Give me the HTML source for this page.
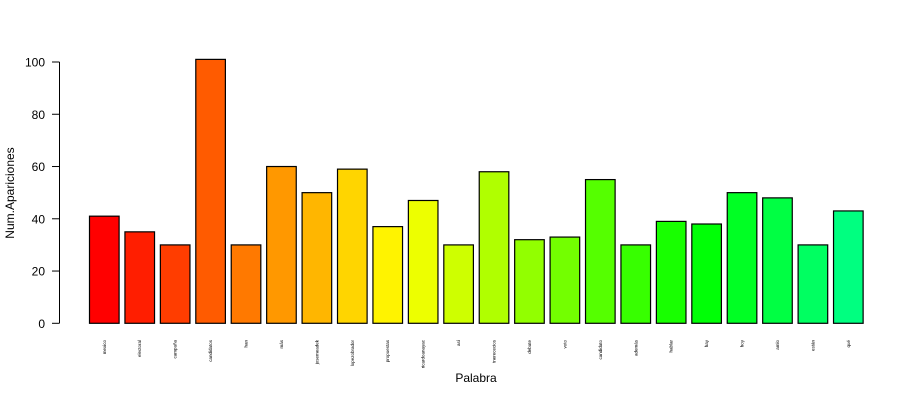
<!DOCTYPE html>
<html><head><meta charset="utf-8"><style>
html,body{margin:0;padding:0;background:#fff;}
svg{display:block;font-family:"Liberation Sans",Arial,sans-serif;}
</style></head><body>
<svg id="chart" width="924" height="400"></svg>
<script>
const categories=["mexico","electoral","campaña","candidatos","han","más","josemeadek","lopezobrador","propuestas","ricardoanayac","así","tnerececios","debate","voto","candidato","además","hablar","hay","hoy","amlo","están","qué"];
const values=[41,35,30,101,30,60,50,59,37,47,30,58,32,33,55,30,39,38,50,48,30,43];
const yTicks=[0,20,40,60,80,100];
const NS="http://www.w3.org/2000/svg";
const svg=document.getElementById('chart');
function mk(t,a,p){const e=document.createElementNS(NS,t);for(const k in a)e.setAttribute(k,a[k]);(p||svg).appendChild(e);return e;}
const y0=323.3,yScale=(323.3-62)/100;
const yPos=v=>y0-v*yScale;
const slot=35.43,bw=29.6,x0=89.5;
const xPos=i=>x0+i*slot;
const gBars=mk('g',{});


values.forEach((v,i)=>{
  const hue=i*150/(values.length-1);
  const r=mk('rect',{x:xPos(i),y:yPos(v),width:bw,height:v*yScale,fill:`hsl(${hue},100%,50%)`,stroke:'#000','stroke-width':1.2},gBars);
  
  
  const t=mk('text',{x:0,y:0,'font-size':4.5,'text-anchor':'end',transform:`translate(${xPos(i)+bw/2+1.5},340) rotate(-90)`,fill:'#000'},gBars);
  t.textContent=categories[i];
  
  
});
const ax=mk('g',{});


mk('line',{x1:59.5,x2:59.5,y1:yPos(0),y2:yPos(100),stroke:'#000'},ax);
yTicks.forEach(v=>{
  mk('line',{x1:52,x2:59.5,y1:yPos(v),y2:yPos(v),stroke:'#000'},ax);
  const t=mk('text',{x:45,y:yPos(v)+4.5,'font-size':12,'text-anchor':'end'},ax);
  t.textContent=v;
  
  
});
const yt=mk('text',{x:0,y:0,'font-size':12,'text-anchor':'middle',transform:'translate(14,193) rotate(-90)'});
yt.textContent='Num.Apariciones';


const xt=mk('text',{x:476,y:382,'font-size':12,'text-anchor':'middle'});
xt.textContent='Palabra';


</script>
</body></html>
